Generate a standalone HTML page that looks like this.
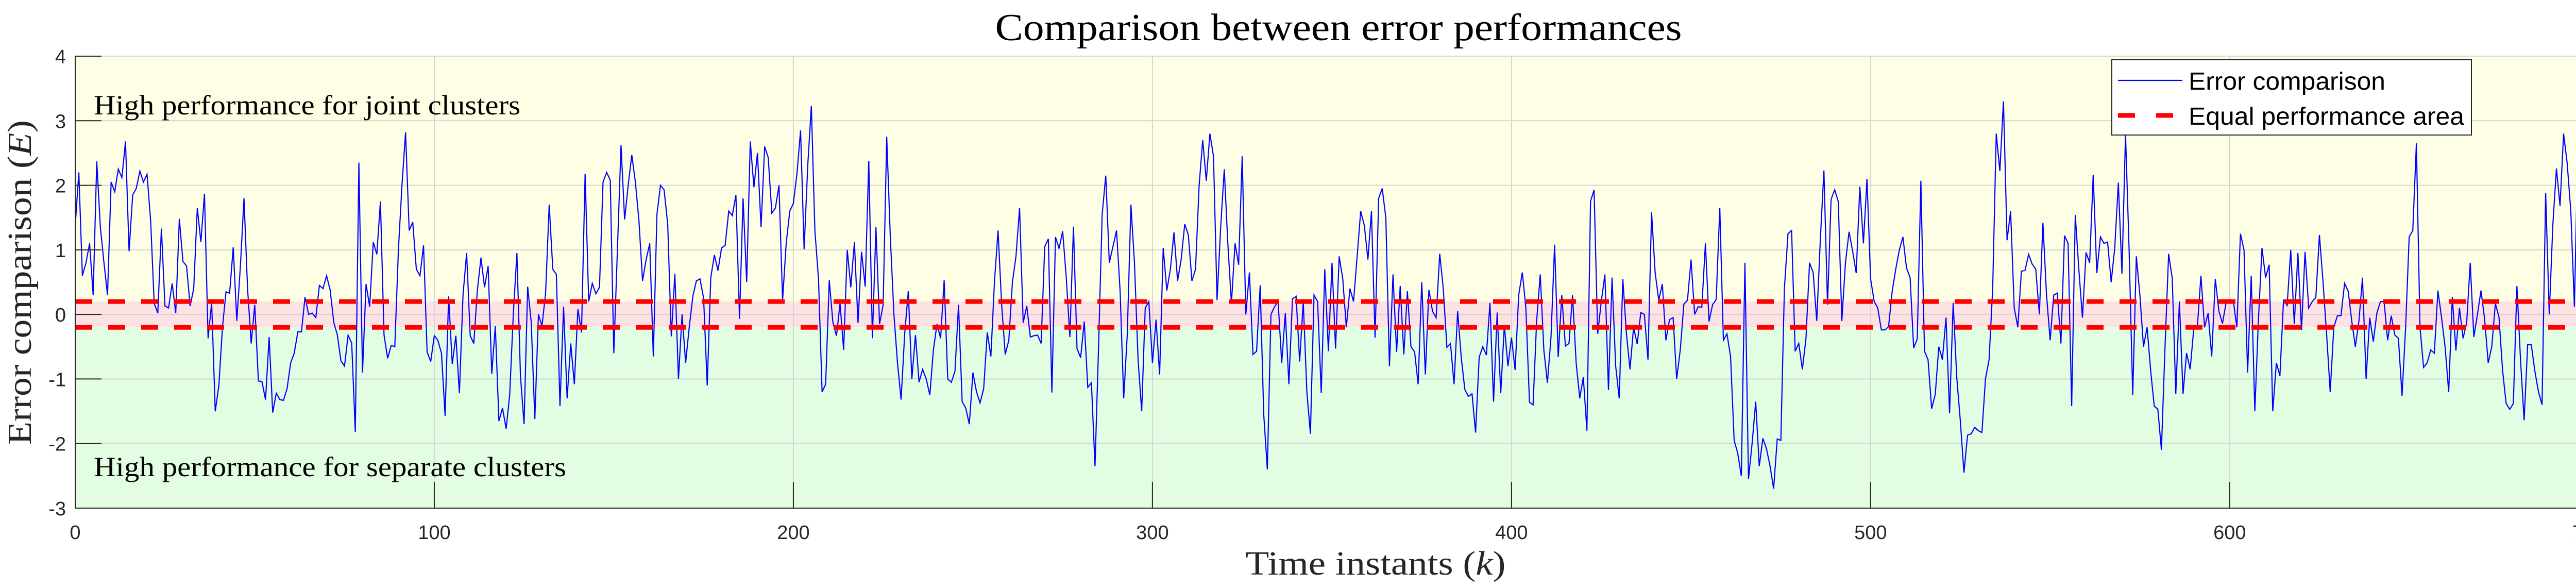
<!DOCTYPE html>
<html><head><meta charset="utf-8"><style>
html,body{margin:0;padding:0;background:#fff;width:5197px;height:1141px;overflow:hidden;}
svg{display:block;position:absolute;left:0;top:0;}
</style></head><body>
<svg id="chart" width="5197" height="1141" viewBox="0 0 5197 1141" overflow="hidden" xmlns="http://www.w3.org/2000/svg">
<defs><clipPath id="plotclip"><rect x="146" y="109" width="5046" height="877"/></clipPath></defs>
<g id="bg"></g>
<g id="grid"></g>
<g id="marks" clip-path="url(#plotclip)"></g>
<g id="axes"></g>
<text x="2598" y="78" text-anchor="middle" font-family="'Liberation Serif',serif" font-size="74" fill="#000" textLength="1333" lengthAdjust="spacingAndGlyphs">Comparison between error performances</text>
<text x="2670" y="1115" text-anchor="middle" font-family="'Liberation Serif',serif" font-size="66" fill="#262626" textLength="505" lengthAdjust="spacingAndGlyphs">Time instants (<tspan font-style="italic">k</tspan>)</text>
<text transform="translate(60,548) rotate(-90)" text-anchor="middle" font-family="'Liberation Serif',serif" font-size="66" fill="#262626" textLength="630" lengthAdjust="spacingAndGlyphs">Error comparison (<tspan font-style="italic">E</tspan>)</text>
<text x="182" y="222" font-family="'Liberation Serif',serif" font-size="54" fill="#000" textLength="828" lengthAdjust="spacingAndGlyphs">High performance for joint clusters</text>
<text x="182" y="924" font-family="'Liberation Serif',serif" font-size="54" fill="#000" textLength="917" lengthAdjust="spacingAndGlyphs">High performance for separate clusters</text>
<g>
<rect x="4099" y="116" width="698" height="146" fill="#fff" stroke="#262626" stroke-width="2"/>
<line x1="4111" y1="156" x2="4236" y2="156" stroke="#0000ff" stroke-width="2.2"/>
<text x="4248" y="174" font-family="'Liberation Sans',sans-serif" font-size="48" fill="#000" textLength="382" lengthAdjust="spacingAndGlyphs">Error comparison</text>
<line x1="4111" y1="224" x2="4236" y2="224" stroke="#ff0000" stroke-width="9" stroke-dasharray="33 41"/>
<text x="4248" y="242" font-family="'Liberation Sans',sans-serif" font-size="48" fill="#000" textLength="535" lengthAdjust="spacingAndGlyphs">Equal performance area</text>
</g>
</svg>
<script>
const xTicks = [0,100,200,300,400,500,600,700];
const yTicks = [4,3,2,1,0,-1,-2,-3];
const bandLimits = [-0.2, 0.2];
const errorSeries = [
1.37,2.2,0.6,0.8,1.1,0.3,2.37,1.35,0.8,0.3,2.05,1.9,2.25,2.12,2.68,0.98,1.85,1.95,2.22,2.05,
2.17,1.45,0.17,0.02,1.33,0.13,0.1,0.48,0.02,1.48,0.82,0.75,0.13,0.4,1.65,1.12,1.87,-0.37,0.18,-1.5,
-1.1,-0.2,0.35,0.33,1.04,-0.1,0.75,1.8,0.4,-0.45,0.15,-1.03,-1.04,-1.32,-0.35,-1.52,-1.22,-1.32,-1.33,-1.15,
-0.75,-0.6,-0.27,-0.27,0.27,0.0,0.02,-0.05,0.45,0.4,0.6,0.38,-0.12,-0.32,-0.72,-0.8,-0.32,-0.45,-1.82,2.35,
-0.9,0.47,0.12,1.12,0.93,1.75,-0.32,-0.68,-0.48,-0.5,1.0,2.0,2.82,1.3,1.43,0.7,0.6,1.07,-0.58,-0.73,
-0.33,-0.4,-0.6,-1.57,0.28,-0.77,-0.33,-1.22,0.3,0.95,-0.33,-0.45,0.38,0.88,0.42,0.75,-0.92,-0.18,-1.65,-1.45,
-1.77,-1.25,0.0,0.95,-0.95,-1.7,0.43,-0.12,-1.62,0.0,-0.18,0.33,1.7,0.7,0.62,-1.42,0.12,-1.3,-0.45,-1.08,
0.08,-0.28,2.18,0.2,0.48,0.32,0.42,2.05,2.2,2.08,-0.6,1.0,2.62,1.47,2.0,2.47,2.05,1.45,0.52,0.85,
1.1,-0.65,1.55,2.0,1.93,1.4,
-0.34,0.63,-1.0,0.0,-0.75,-0.2,0.28,0.52,0.55,0.25,-1.1,0.57,0.92,0.68,1.03,1.07,1.6,1.53,1.85,-0.07,
1.8,0.5,2.68,1.97,2.5,1.35,2.6,2.43,1.57,1.65,2.0,0.22,1.1,1.6,1.72,2.18,2.85,1.01,2.3,3.23,
1.3,0.55,-1.2,-1.08,0.53,-0.12,-0.33,0.17,-0.55,1.0,0.42,1.12,-0.13,0.97,0.43,2.38,-0.37,1.35,-0.15,0.15,
2.75,1.2,0.0,-0.75,-1.32,-0.3,0.36,-1.0,-0.32,-1.05,-0.85,-1.0,-1.25,-0.55,-0.15,-0.37,0.53,-1.0,-1.05,-0.88,
0.15,-1.35,-1.45,-1.7,-0.9,-1.2,-1.37,-1.15,-0.28,-0.65,0.5,1.3,0.15,-0.62,-0.4,0.5,0.9,1.65,-0.13,0.13,
-0.35,-0.33,-0.32,-0.45,1.05,1.17,-1.21,1.2,1.02,1.29,0.57,-0.35,1.36,-0.53,-0.67,-0.11,-1.13,-1.06,-2.35,-0.5,
1.55,2.15,0.8,
1.05,1.3,0.35,-1.3,-0.3,1.7,0.8,-0.7,-1.5,0.1,0.2,-0.75,-0.08,-0.93,1.03,0.37,0.7,1.27,0.52,0.85,
1.4,1.23,0.52,0.7,2.0,2.7,2.07,2.8,2.45,0.22,1.35,2.25,1.1,0.17,1.1,0.77,2.45,0.0,0.65,-0.62,
-0.57,0.45,-1.55,-2.4,0.0,0.12,0.2,-0.75,0.02,-1.08,0.24,0.28,-0.73,0.2,-1.2,-1.85,0.3,0.2,-1.22,0.7,
-0.57,0.8,-0.53,0.9,0.55,-0.2,0.4,0.2,0.9,1.6,1.38,0.85,1.6,-0.36,1.8,1.95,1.5,-0.8,0.62,-0.58,
0.44,-0.62,0.36,-0.5,-0.58,-1.08,0.5,-0.93,0.38,0.05,-0.05,0.94,0.4,-0.51,-0.45,-1.08,0.05,-0.67,-1.16,-1.27,
-1.23,-1.83,-0.66,-0.5,-0.63,0.18,-1.35,0.03,-1.22,-0.17,-0.8,-0.36,-0.86,0.3,0.65,0.1,-1.36,-1.4,-0.1,0.62,
-0.55,-1.06,-0.35,1.08,-0.66,0.3,-0.49,
-0.45,0.3,-0.75,-1.3,-0.97,-1.8,1.75,1.93,-0.3,0.2,0.62,-1.17,0.57,-0.8,-1.3,0.55,-0.3,-0.85,-0.2,-0.46,
0.03,0.0,-0.7,1.58,0.65,0.22,0.47,-0.4,-0.08,-0.05,-1.0,-0.55,0.16,0.22,0.85,0.0,0.12,0.11,1.1,-0.11,
0.15,0.23,1.65,-0.4,-0.3,-0.65,-1.95,-2.15,-2.5,0.8,-2.55,-2.0,-1.35,-2.35,-1.92,-2.08,-2.35,-2.7,-1.93,-1.95,
0.4,1.25,1.3,-0.57,-0.45,-0.85,-0.37,0.8,0.65,-0.1,1.15,2.23,0.15,1.78,1.93,1.75,-0.1,0.8,1.28,0.98,
0.64,1.98,1.1,2.1,0.55,0.2,0.1,-0.24,-0.24,-0.19,0.35,0.7,1.0,1.2,0.72,0.57,-0.52,-0.38,2.07,-0.57,
-0.7,-1.46,-1.24,-0.5,-0.7,-0.05,-1.53,0.18,-0.98,-1.65,-2.45,-1.87,-1.85,-1.75,-1.8,-1.83,-1.0,-0.7,0.4,2.8,
2.22,3.3,1.15,
1.6,0.1,-0.2,0.67,0.68,0.93,0.78,0.7,0.0,1.42,0.3,-0.4,0.3,0.33,-0.45,1.22,1.1,-1.42,1.54,0.7,
-0.05,0.96,0.8,2.16,0.64,1.2,1.1,1.12,0.5,1.03,2.04,0.63,2.8,1.0,-1.25,0.9,0.3,-0.5,-0.2,-0.87,
-1.42,-1.47,-2.1,-0.5,0.94,0.56,-1.23,0.2,-1.23,-0.6,-0.85,-0.22,-0.2,0.6,-0.2,0.02,-0.65,0.55,0.05,-0.14,
0.18,0.22,0.22,-0.2,1.25,1.0,-0.9,0.6,-1.5,-0.1,1.03,0.57,0.77,-1.5,-0.75,-0.95,0.22,0.14,1.0,-0.15,
0.95,-0.24,0.97,0.1,0.2,0.26,1.23,0.5,-0.3,-1.2,-0.2,-0.02,-0.02,0.48,0.36,-0.1,-0.5,-0.1,0.57,-1.0,
-0.05,-0.42,0.02,0.2,0.2,-0.4,-0.02,-0.32,-0.37,-1.26,-0.2,1.2,1.3,2.65,-0.2,-0.82,-0.75,-0.55,-0.6,0.37,
-0.05,-0.5,-1.2,0.27,-0.56,0.1,-0.37,-0.13,0.8,-0.35,0.0,0.37,-0.07,-0.75,-0.5,0.17,-0.04,-0.87,-1.38,
-1.47,-1.38,0.44,-0.7,-1.64,-0.47,-0.47,-0.88,-1.2,-1.4,1.88,0.0,1.38,2.26,1.68,2.8,2.34,1.6,0.12,2.65,
3.45,2.26,2.0,1.75,2.33,1.74,2.33,1.45,0.42,1.55,0.46,2.0,2.0,1.07,-0.12,1.1,1.0,0.85,-0.6,0.43,
-0.7,-1.15,-0.37,-0.8,0.47,0.2,0.97,0.15,0.2
];
const X0=146, X1=5192, XMAX=724, Y0=109, Y1=986, YMIN=-3, YMAX=4, SHADE_END=722;
const NS='http://www.w3.org/2000/svg';
function sx(v){return X0+(v/XMAX)*(X1-X0);}
function sy(v){return Y1-(v-YMIN)/(YMAX-YMIN)*(Y1-Y0);}
function mk(tag,attrs,parent){const e=document.createElementNS(NS,tag);for(const k in attrs)e.setAttribute(k,attrs[k]);parent.appendChild(e);return e;}
const bg=document.getElementById('bg'),grid=document.getElementById('grid'),marks=document.getElementById('marks'),axes=document.getElementById('axes');
let r=mk('rect',{x:X0,y:Y0,width:X1-X0,height:Y1-Y0,fill:'#ffffff'},bg);


r=mk('rect',{x:X0,y:Y0,width:sx(SHADE_END)-X0,height:sy(bandLimits[1])-Y0,fill:'#fefee4'},bg);


r=mk('rect',{x:X0,y:sy(bandLimits[1]),width:sx(SHADE_END)-X0,height:sy(bandLimits[0])-sy(bandLimits[1]),fill:'#fde2e4'},bg);


r=mk('rect',{x:X0,y:sy(bandLimits[0]),width:sx(SHADE_END)-X0,height:Y1-sy(bandLimits[0]),fill:'#e2fde2'},bg);


yTicks.forEach(t=>{
  const y=sy(t);
  let g=mk('line',{x1:X0,x2:X1,y1:y,y2:y,stroke:'#d4d4d4','stroke-width':2},grid);
  
  
  let tk=mk('line',{x1:X0,x2:X0+51,y1:y,y2:y,stroke:'#262626','stroke-width':2},axes);
  
  
  let lb=mk('text',{x:128,y:y+14,'text-anchor':'end','font-family':"'Liberation Sans',sans-serif",'font-size':38,fill:'#262626'},axes);
  lb.textContent=String(t);
  
  
});
xTicks.forEach(t=>{
  const x=sx(t);
  let g=mk('line',{x1:x,x2:x,y1:Y0,y2:Y1,stroke:'#d4d4d4','stroke-width':2},grid);
  
  
  let tk=mk('line',{x1:x,x2:x,y1:Y1,y2:Y1-51,stroke:'#262626','stroke-width':2},axes);
  
  
  let lb=mk('text',{x:x,y:1046,'text-anchor':'middle','font-family':"'Liberation Sans',sans-serif",'font-size':38,fill:'#262626'},axes);
  lb.textContent=String(t);
  
  
});
let bx=mk('rect',{x:X0,y:Y0,width:X1-X0,height:Y1-Y0,fill:'none',stroke:'#d8d8d8','stroke-width':2},grid);


let ax=mk('line',{x1:X0,x2:X0,y1:Y0,y2:Y1,stroke:'#262626','stroke-width':2},axes);


ax=mk('line',{x1:X0,x2:X1,y1:Y1,y2:Y1,stroke:'#262626','stroke-width':2},axes);


const pts=errorSeries.map((v,i)=>sx(i).toFixed(1)+','+sy(v).toFixed(1)).join(' ');
let pl=mk('polyline',{points:pts,fill:'none',stroke:'#0000ff','stroke-width':2.2,'stroke-linejoin':'miter'},marks);


bandLimits.forEach(b=>{
  let d=mk('line',{x1:X0,x2:sx(SHADE_END),y1:sy(b),y2:sy(b),stroke:'#ff0000','stroke-width':9,'stroke-dasharray':'33 31'},marks);
  
  
});
</script>
</body></html>
